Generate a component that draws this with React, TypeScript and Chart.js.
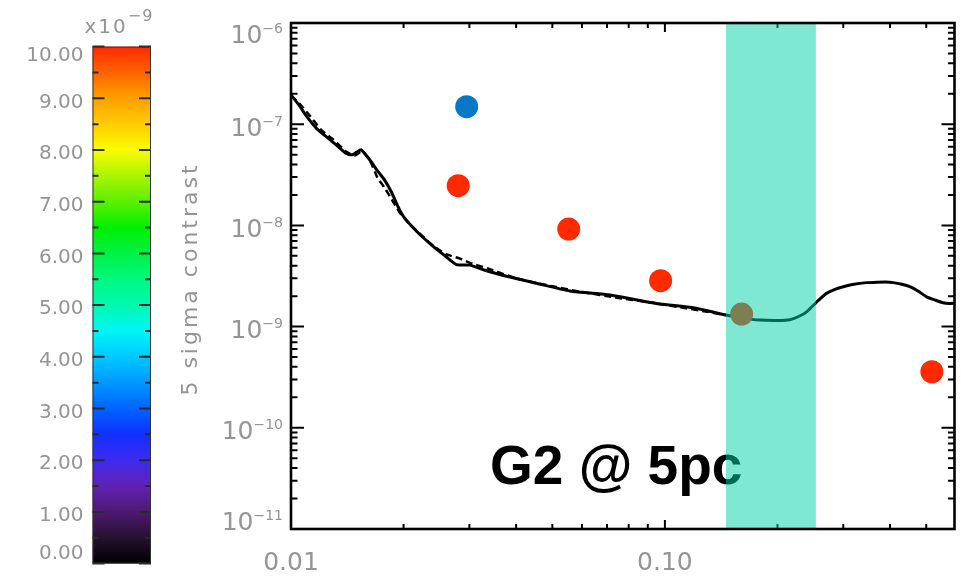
import React, { useEffect, useRef } from 'react';
import { Chart, registerables } from 'chart.js';

Chart.register(...registerables);

// ---------------- data ----------------
const SEPARATION = [
  0.0100, 0.0105, 0.0110, 0.0117, 0.0125, 0.0133, 0.0141, 0.0146, 0.0150, 0.0154,
  0.0162, 0.0170, 0.0178, 0.0186, 0.0193, 0.0200, 0.0217, 0.0240, 0.0260, 0.0277,
  0.0301, 0.0330, 0.0370, 0.0450, 0.0557, 0.0713, 0.0850, 0.0970, 0.1200, 0.1456,
  0.1600, 0.1795, 0.2000, 0.2159, 0.2300, 0.2393, 0.2535, 0.2620, 0.2706, 0.2850,
  0.3000, 0.3200, 0.3460, 0.3700, 0.3900, 0.4080, 0.4300, 0.4520, 0.4750, 0.5010,
  0.5300, 0.5550, 0.5750, 0.5950,
];
const CONTRAST = [
  1.95e-7, 1.55e-7, 1.2e-7, 9.1e-8, 7.4e-8, 6.1e-8, 5.1e-8, 5.0e-8, 5.3e-8, 5.6e-8,
  4.5e-8, 3.5e-8, 2.8e-8, 2.1e-8, 1.55e-8, 1.22e-8, 8.7e-9, 6.2e-9, 4.9e-9, 4.1e-9,
  4.05e-9, 3.6e-9, 3.2e-9, 2.7e-9, 2.25e-9, 2.05e-9, 1.82e-9, 1.67e-9, 1.53e-9, 1.30e-9,
  1.22e-9, 1.16e-9, 1.15e-9, 1.17e-9, 1.28e-9, 1.40e-9, 1.72e-9, 1.93e-9, 2.13e-9, 2.33e-9,
  2.48e-9, 2.62e-9, 2.72e-9, 2.75e-9, 2.76e-9, 2.72e-9, 2.62e-9, 2.48e-9, 2.25e-9, 1.97e-9,
  1.82e-9, 1.72e-9, 1.69e-9, 1.70e-9,
];
const SEPARATION_DASHED = [
  0.0100, 0.0105, 0.0113, 0.0120, 0.0130, 0.0141, 0.0148, 0.0155, 0.0163, 0.0170,
  0.0178, 0.0186, 0.0195, 0.0205, 0.0220, 0.0240, 0.0260, 0.0283, 0.0305, 0.0340,
  0.0400, 0.0500, 0.0600, 0.0750, 0.0900, 0.1100, 0.1300, 0.1456,
];
const CONTRAST_DASHED = [
  1.92e-7, 1.62e-7, 1.18e-7, 8.9e-8, 7.0e-8, 5.3e-8, 4.9e-8, 5.4e-8, 4.3e-8, 3.0e-8,
  2.35e-8, 1.8e-8, 1.35e-8, 1.08e-8, 8.4e-9, 6.3e-9, 5.2e-9, 4.7e-9, 4.2e-9, 3.7e-9,
  3.0e-9, 2.5e-9, 2.2e-9, 1.92e-9, 1.75e-9, 1.55e-9, 1.40e-9, 1.30e-9,
];
const PLANET_SEP = [0.0280, 0.0553, 0.0974, 0.1604, 0.5176];
const PLANET_CONTRAST = [2.47e-8, 9.2e-9, 2.84e-9, 1.33e-9, 3.58e-10];
const REF_SEP = [0.0295];
const REF_CONTRAST = [1.49e-7];
const HZ_SEP = [0.1456, 0.2535];

const X_MIN = 0.01;
const X_MAX = 0.595;
const Y_MIN = 1e-11;
const Y_MAX = 1e-6;
const Y_DECADES = [-11, -10, -9, -8, -7, -6];
const Y_MINOR_MULT = [2, 3, 4, 5, 6, 7, 8, 9];
const X_MAJOR_TICKS = [0.01, 0.1];
const X_MAJOR_LABELS = ['0.01', '0.10'];
const X_MINOR_TICKS = [0.02, 0.03, 0.04, 0.05, 0.06, 0.07, 0.08, 0.09, 0.2, 0.3, 0.4, 0.5];

const CBAR_MAJOR = [0, 1, 2, 3, 4, 5, 6, 7, 8, 9, 10];
const CBAR_MINOR = [0.5, 1.5, 2.5, 3.5, 4.5, 5.5, 6.5, 7.5, 8.5, 9.5];
const CBAR_LABELS = CBAR_MAJOR.map((v) => v.toFixed(2));
const CBAR_STOPS: [number, string][] = [
  [0, '#000000'], [0.5, '#26102e'], [1.0, '#4c1a70'], [1.5, '#6022b2'], [2.0, '#3e2af0'],
  [2.5, '#1230ff'], [3.0, '#0064ff'], [3.5, '#0098ff'], [4.0, '#00c8ff'], [4.5, '#00f6f6'],
  [5.0, '#00f8b0'], [5.5, '#00f880'], [6.0, '#00f244'], [6.5, '#00f000'], [7.0, '#5cf000'],
  [7.5, '#aaf400'], [8.0, '#fcfc00'], [8.5, '#ffcc00'], [9.0, '#ffa000'], [9.5, '#ff6400'],
  [10, '#ff2800'],
];
const CBAR_UNIT_BASE = 'x10';
const CBAR_UNIT_EXP = '\u22129';

const Y_TITLE = '5 sigma contrast';
const ANNOTATION = 'G2 @ 5pc';

const LABEL_COLOR = '#959595';
const LABEL_FONT = '25px "DejaVu Sans", sans-serif';
const EXP_FONT = '14px "DejaVu Sans", sans-serif';

// ---------------- plugins ----------------
const mainDecor = {
  id: 'mainDecor',
  beforeDatasetsDraw(chart: any) {
    const { ctx, chartArea: a, scales } = chart;
    const x = scales.x;
    const y = scales.y;
    ctx.save();
    // annotation
    ctx.fillStyle = '#000';
    ctx.font = 'bold 55px "Liberation Sans", Arial, sans-serif';
    ctx.textAlign = 'left';
    ctx.textBaseline = 'alphabetic';
    ctx.fillText(ANNOTATION, a.left + 199, a.top + 460.5);

    // ticks
    ctx.strokeStyle = '#000';
    ctx.lineWidth = 2;
    ctx.beginPath();
    Y_DECADES.forEach((d) => {
      const py = y.getPixelForValue(Math.pow(10, d));
      ctx.moveTo(a.left, py); ctx.lineTo(a.left + 13, py);
      ctx.moveTo(a.right, py); ctx.lineTo(a.right - 13, py);
      if (d < -6) {
        Y_MINOR_MULT.forEach((m) => {
          const pm = y.getPixelForValue(m * Math.pow(10, d));
          ctx.moveTo(a.left, pm); ctx.lineTo(a.left + 6.5, pm);
          ctx.moveTo(a.right, pm); ctx.lineTo(a.right - 6.5, pm);
        });
      }
    });
    X_MAJOR_TICKS.forEach((v) => {
      const px = x.getPixelForValue(v);
      ctx.moveTo(px, a.bottom); ctx.lineTo(px, a.bottom - 9);
      ctx.moveTo(px, a.top); ctx.lineTo(px, a.top + 9);
    });
    X_MINOR_TICKS.forEach((v) => {
      const px = x.getPixelForValue(v);
      ctx.moveTo(px, a.bottom); ctx.lineTo(px, a.bottom - 5);
      ctx.moveTo(px, a.top); ctx.lineTo(px, a.top + 5);
    });
    ctx.stroke();
    ctx.restore();
  },
  afterDraw(chart: any) {
    const { ctx, chartArea: a, scales } = chart;
    const x = scales.x;
    const y = scales.y;
    ctx.save();
    // frame
    ctx.strokeStyle = '#000';
    ctx.lineWidth = 2.6;
    ctx.strokeRect(a.left, a.top, a.right - a.left, a.bottom - a.top);

    // y labels
    ctx.fillStyle = LABEL_COLOR;
    Y_DECADES.forEach((d) => {
      const py = y.getPixelForValue(Math.pow(10, d));
      const cy = Math.min(Math.max(py + 3, a.top + 11), a.bottom - 8);
      const baseline = cy + 8.5;
      const exp = '\u2212' + Math.abs(d);
      ctx.font = EXP_FONT;
      const ew = ctx.measureText(exp).width;
      ctx.font = LABEL_FONT;
      const bw = ctx.measureText('10').width;
      const xr = a.left - 8;
      ctx.textAlign = 'left';
      ctx.textBaseline = 'alphabetic';
      ctx.font = LABEL_FONT;
      ctx.fillText('10', xr - ew - bw, baseline);
      ctx.font = EXP_FONT;
      ctx.fillText(exp, xr - ew, baseline - 10);
    });

    // x labels
    ctx.font = LABEL_FONT;
    ctx.textAlign = 'center';
    ctx.textBaseline = 'alphabetic';
    X_MAJOR_TICKS.forEach((v, i) => {
      ctx.fillText(X_MAJOR_LABELS[i], x.getPixelForValue(v), a.bottom + 41);
    });

    // y title
    ctx.translate(27, (a.top + a.bottom) / 2 + 3);
    ctx.rotate(-Math.PI / 2);
    ctx.font = '22px "DejaVu Sans", sans-serif';
    (ctx as any).letterSpacing = '3px';
    ctx.textAlign = 'center';
    ctx.textBaseline = 'alphabetic';
    ctx.fillText(Y_TITLE, 0, 0);
    ctx.restore();
  },
};

const cbarDecor = {
  id: 'cbarDecor',
  afterDraw(chart: any) {
    const { ctx, chartArea: a, scales } = chart;
    const y = scales.y;
    ctx.save();
    ctx.strokeStyle = '#2a2a2a';
    ctx.lineWidth = 2;
    ctx.beginPath();
    CBAR_MAJOR.forEach((v) => {
      const py = y.getPixelForValue(v);
      ctx.moveTo(a.left, py); ctx.lineTo(a.left + 12, py);
      ctx.moveTo(a.right, py); ctx.lineTo(a.right - 12, py);
    });
    CBAR_MINOR.forEach((v) => {
      const py = y.getPixelForValue(v);
      ctx.moveTo(a.left, py); ctx.lineTo(a.left + 6, py);
      ctx.moveTo(a.right, py); ctx.lineTo(a.right - 6, py);
    });
    ctx.stroke();
    ctx.lineWidth = 1;
    ctx.strokeStyle = '#333';
    ctx.strokeRect(a.left + 0.5, a.top + 0.5, a.right - a.left - 1, a.bottom - a.top - 1);

    ctx.fillStyle = LABEL_COLOR;
    ctx.font = '20px "DejaVu Sans", sans-serif';
    ctx.textAlign = 'right';
    ctx.textBaseline = 'middle';
    CBAR_MAJOR.forEach((v, i) => {
      const py = y.getPixelForValue(v);
      const cy = Math.min(Math.max(py + 4, a.top + 9), a.bottom - 10);
      ctx.fillText(CBAR_LABELS[i], a.left - 9, cy);
    });

    // unit header
    ctx.textAlign = 'left';
    ctx.textBaseline = 'alphabetic';
    ctx.font = '20px "DejaVu Sans", sans-serif';
    (ctx as any).letterSpacing = '2px';
    const bw = ctx.measureText(CBAR_UNIT_BASE).width;
    const x0 = a.left - 8;
    ctx.fillText(CBAR_UNIT_BASE, x0, a.top - 13.5);
    ctx.font = '16px "DejaVu Sans", sans-serif';
    (ctx as any).letterSpacing = '1px';
    ctx.fillText(CBAR_UNIT_EXP, x0 + bw, a.top - 25.5);
    ctx.restore();
  },
};

// ---------------- components ----------------
function ColorBar() {
  const ref = useRef<HTMLCanvasElement | null>(null);
  useEffect(() => {
    if (!ref.current) return;
    const chart = new Chart(ref.current, {
      type: 'bar',
      data: {
        labels: [''],
        datasets: [
          {
            data: [CBAR_MAJOR[CBAR_MAJOR.length - 1]],
            barPercentage: 1,
            categoryPercentage: 1,
            borderWidth: 0,
            backgroundColor: (c: any) => {
              const ch = c.chart;
              const sy = ch.scales && ch.scales.y;
              if (!ch.chartArea || !sy) return '#000';
              const g = ch.ctx.createLinearGradient(0, sy.getPixelForValue(0), 0, sy.getPixelForValue(10));
              CBAR_STOPS.forEach(([v, col]) => g.addColorStop(v / 10, col));
              return g;
            },
          },
        ],
      },
      options: {
        animation: false,
        responsive: false,
        devicePixelRatio: 1,
        layout: { padding: { left: 92.5, right: 19, top: 46.6, bottom: 15.4 } },
        scales: {
          x: { display: false },
          y: { display: false, min: 0, max: 10 },
        },
        plugins: { legend: { display: false }, tooltip: { enabled: false } },
      },
      plugins: [cbarDecor],
    } as any);
    return () => chart.destroy();
  }, []);
  return (
    <canvas
      ref={ref}
      width={170}
      height={579}
      style={{ position: 'absolute', left: 0, top: 0, width: 170, height: 579 }}
    />
  );
}

function ContrastChart() {
  const ref = useRef<HTMLCanvasElement | null>(null);
  useEffect(() => {
    if (!ref.current) return;
    const pts = (xs: number[], ys: number[]) => xs.map((v, i) => ({ x: v, y: ys[i] }));
    const chart = new Chart(ref.current, {
      type: 'line',
      data: {
        datasets: [
          {
            label: 'band',
            data: HZ_SEP.map((v) => ({ x: v, y: Y_MAX })),
            fill: 'start',
            backgroundColor: 'rgba(0,209,165,0.5)',
            borderWidth: 0,
            borderColor: 'rgba(0,0,0,0)',
            pointRadius: 0,
            order: 0,
          },
          {
            label: 'reference',
            data: pts(REF_SEP, REF_CONTRAST),
            showLine: false,
            pointRadius: 11.5,
            pointBorderWidth: 0,
            pointBackgroundColor: '#0778c8',
            order: 1,
          },
          {
            label: 'planets',
            data: pts(PLANET_SEP, PLANET_CONTRAST),
            showLine: false,
            pointRadius: 11.5,
            pointBorderWidth: 0,
            pointBackgroundColor: '#ff2a00',
            order: 2,
          },
          {
            label: 'solid',
            data: pts(SEPARATION, CONTRAST),
            borderColor: '#000',
            borderWidth: 3,
            pointRadius: 0,
            fill: false,
            tension: 0.2,
            order: 3,
          },
          {
            label: 'dashed',
            data: pts(SEPARATION_DASHED, CONTRAST_DASHED),
            borderColor: '#000',
            borderWidth: 2.5,
            borderDash: [7, 4],
            pointRadius: 0,
            fill: false,
            tension: 0.2,
            order: 4,
          },
        ],
      },
      options: {
        animation: false,
        responsive: false,
        devicePixelRatio: 1,
        layout: { padding: { left: 121, right: 11, top: 23, bottom: 50 } },
        scales: {
          x: { type: 'logarithmic', min: X_MIN, max: X_MAX, display: false },
          y: { type: 'logarithmic', min: Y_MIN, max: Y_MAX, display: false },
        },
        plugins: { legend: { display: false }, tooltip: { enabled: false } },
      },
      plugins: [mainDecor],
    } as any);
    return () => chart.destroy();
  }, []);
  return (
    <canvas
      ref={ref}
      width={796}
      height={579}
      style={{ position: 'absolute', left: 170, top: 0, width: 796, height: 579 }}
    />
  );
}

export default function App() {
  return (
    <div
      style={{
        position: 'absolute',
        left: 0,
        top: 0,
        width: 966,
        height: 579,
        background: '#ffffff',
        overflow: 'hidden',
      }}
    >
      <ColorBar />
      <ContrastChart />
    </div>
  );
}
